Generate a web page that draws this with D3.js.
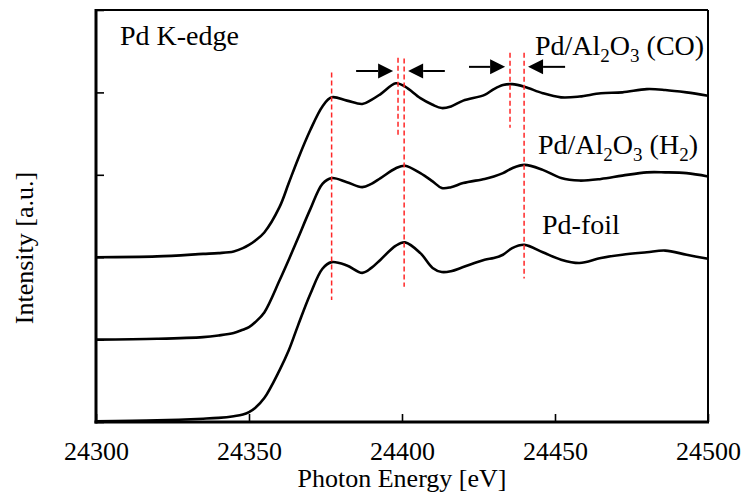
<!DOCTYPE html>
<html lang="en">
  <head>
    <meta charset="utf-8">
    <title>Pd K-edge XANES</title>
    <style type="text/css">
      body{
        margin: 0;
        background-color: white;
      }
    </style>
  </head>
  <body>
    <div id='chart'></div>

    <script src="https://d3js.org/d3.v7.min.js"></script>
    <script type="text/javascript">

      // photon energy grid [eV]
      const energy = [24300, 24320, 24335, 24340, 24345, 24348, 24350, 24352, 24355, 24360,
        24363, 24366, 24370, 24374, 24377, 24382, 24387, 24390, 24393, 24398,
        24401, 24406, 24410, 24413, 24416, 24420, 24427, 24430, 24433, 24436,
        24440, 24446, 24452, 24458, 24465, 24472, 24480, 24486, 24493, 24500];

      // intensity (already stacked, 1 unit apart)
      const foil = [0.01, 0.02, 0.04, 0.05, 0.07, 0.09, 0.12, 0.17, 0.29, 0.63,
        0.87, 1.17, 1.55, 1.86, 1.94, 1.90, 1.81, 1.87, 1.97, 2.14,
        2.18, 2.05, 1.87, 1.82, 1.83, 1.88, 1.97, 1.99, 2.03, 2.11,
        2.15, 2.06, 1.97, 1.93, 1.99, 2.03, 2.06, 2.08, 2.03, 1.98];
      const h2 = [1.00, 1.01, 1.03, 1.05, 1.08, 1.12, 1.15, 1.21, 1.33, 1.72,
        1.97, 2.23, 2.58, 2.89, 2.96, 2.91, 2.85, 2.89, 2.96, 3.08,
        3.11, 3.02, 2.92, 2.84, 2.85, 2.90, 2.95, 2.98, 3.02, 3.08,
        3.12, 3.06, 2.96, 2.93, 2.95, 2.99, 3.03, 3.03, 3.02, 2.98];
      const co = [2.00, 2.01, 2.04, 2.05, 2.07, 2.11, 2.15, 2.20, 2.30, 2.61,
        2.90, 3.19, 3.54, 3.83, 3.94, 3.90, 3.86, 3.91, 3.98, 4.11,
        4.07, 3.93, 3.85, 3.81, 3.83, 3.90, 3.97, 4.04, 4.09, 4.10,
        4.07, 3.99, 3.94, 3.95, 3.99, 4.00, 4.04, 4.03, 4.00, 3.96];

      const xTicks = [24300, 24350, 24400, 24450, 24500];
      const yTicks = [0, 1, 2, 3, 4, 5];

      // red dashed peak markers
      const peakE = [24377, 24398.7, 24400.7, 24435.3, 24439.9];
      const peakTop = [4.24, 4.42, 4.41, 4.48, 4.48];
      const peakBottom = [1.48, 3.48, 1.64, 3.57, 1.74];

      // shift arrows
      const arrowFrom = [24385, 24414, 24421.9, 24453.3];
      const arrowTo = [24397.1, 24402, 24433.7, 24441.2];
      const arrowY = [4.26, 4.26, 4.31, 4.31];

      const w = 744;
      const h = 493;
      const padL = 96, padR = 708, padT = 10, padB = 422;
      const serif = '"Liberation Serif", "Times New Roman", Times, "DejaVu Serif", serif';

      var svg = d3.select('#chart').append('svg').attr('width', w).attr('height', h)
        .attr('font-family', serif);

      var scaleX = d3.scaleLinear().domain([24300, 24500]).range([padL, padR]);
      var scaleY = d3.scaleLinear().domain([0, 5]).range([padB, padT]);

      var xAxis = d3.axisBottom(scaleX).tickValues(xTicks).tickFormat(d3.format('d'))
        .tickSizeInner(-8).tickSizeOuter(0).tickPadding(20);
      var yAxis = d3.axisLeft(scaleY).tickValues(yTicks).tickFormat('')
        .tickSizeInner(-8).tickSizeOuter(0);

      var gx = svg.append('g').attr('transform', 'translate(0,' + padB + ')').call(xAxis);
      var gy = svg.append('g').attr('transform', 'translate(' + padL + ',0)').call(yAxis);
      gx.attr('font-family', serif).attr('font-size', 26);
      gx.select('.domain').remove();
      gy.select('.domain').remove();
      gx.selectAll('line').attr('stroke', 'black').attr('stroke-width', 1.6);
      gy.selectAll('line').attr('stroke', 'black').attr('stroke-width', 1.6);
      gx.selectAll('text').attr('fill', 'black');

      // frame
      svg.append('line').attr('x1', padL).attr('x2', padR).attr('y1', padT).attr('y2', padT)
        .attr('stroke', 'black').attr('stroke-width', 2);
      svg.append('line').attr('x1', padR).attr('x2', padR).attr('y1', padT).attr('y2', padB)
        .attr('stroke', 'black').attr('stroke-width', 2);
      svg.append('line').attr('x1', padL).attr('x2', padL).attr('y1', padT - 1).attr('y2', padB + 1.5)
        .attr('stroke', 'black').attr('stroke-width', 3);
      svg.append('line').attr('x1', padL - 1.5).attr('x2', padR + 1).attr('y1', padB).attr('y2', padB)
        .attr('stroke', 'black').attr('stroke-width', 3);

      var line = d3.line()
        .x((d, i) => scaleX(energy[i]))
        .y(d => scaleY(d))
        .curve(d3.curveCatmullRom.alpha(0.5));

      [foil, h2, co].forEach(function(s){
        svg.append('path').datum(s).attr('d', line)
          .attr('fill', 'none').attr('stroke', 'black').attr('stroke-width', 2.6)
          .attr('stroke-linejoin', 'round');
      });

      svg.selectAll('.peak').data(peakE).enter().append('line').attr('class', 'peak')
        .attr('x1', d => scaleX(d)).attr('x2', d => scaleX(d))
        .attr('y1', (d, i) => scaleY(peakTop[i])).attr('y2', (d, i) => scaleY(peakBottom[i]))
        .attr('stroke', '#ff2626').attr('stroke-width', 1.5).attr('stroke-dasharray', '5,3');

      // arrows
      arrowFrom.forEach(function(f, i){
        var x0 = scaleX(f), x1 = scaleX(arrowTo[i]), y = scaleY(arrowY[i]);
        var dir = x1 > x0 ? 1 : -1;
        var hx = x1 - dir * 15;
        svg.append('line').attr('x1', x0).attr('x2', hx).attr('y1', y).attr('y2', y)
          .attr('stroke', 'black').attr('stroke-width', 2);
        svg.append('path').attr('d', 'M' + x1 + ',' + y + 'L' + hx + ',' + (y - 7.5) + 'L' + hx + ',' + (y + 7.5) + 'Z')
          .attr('fill', 'black');
      });

      // labels
      svg.append('text').attr('x', 120).attr('y', 45).attr('font-size', 28).text('Pd K-edge');

      function sampleLabel(x, y, gas, gasSub){
        var t = svg.append('text').attr('x', x).attr('y', y).attr('font-size', 28);
        t.append('tspan').text('Pd/Al');
        t.append('tspan').attr('dy', 7).attr('font-size', 19).text('2');
        t.append('tspan').attr('dy', -7).text('O');
        t.append('tspan').attr('dy', 7).attr('font-size', 19).text('3');
        t.append('tspan').attr('dy', -7).text(' (' + gas);
        if (gasSub) {
          t.append('tspan').attr('dy', 7).attr('font-size', 19).text(gasSub);
          t.append('tspan').attr('dy', -7).text(')');
        } else {
          t.append('tspan').text(')');
        }
      }
      sampleLabel(535, 55, 'CO', null);
      sampleLabel(538, 154, 'H', '2');
      svg.append('text').attr('x', 542).attr('y', 234).attr('font-size', 28).text('Pd-foil');

      svg.append('text').attr('x', (padL + padR) / 2).attr('y', 487).attr('text-anchor', 'middle')
        .attr('font-size', 26).text('Photon Energy [eV]');
      svg.append('text').attr('transform', 'translate(33,248) rotate(-90)').attr('text-anchor', 'middle')
        .attr('font-size', 26).text('Intensity [a.u.]');

    </script>
  </body>
</html>
